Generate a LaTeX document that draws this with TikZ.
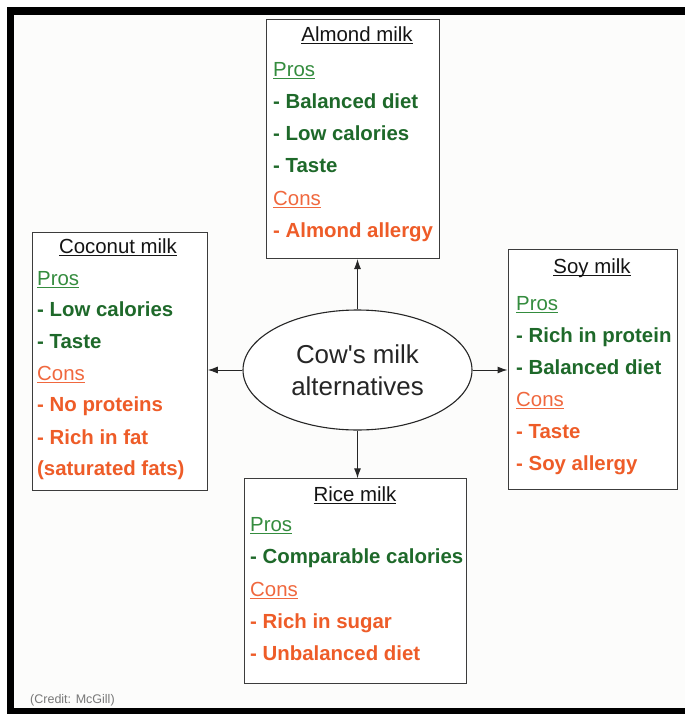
\documentclass[tikz,border=0pt]{standalone}
\usepackage{fontspec}
\setmainfont{Liberation Sans}
\newfontfamily\cowfont{Liberation Sans}
\usetikzlibrary{shapes.geometric,arrows.meta}
\definecolor{itemgreen}{RGB}{30,105,42}
\definecolor{prosgreen}{RGB}{52,140,62}
\definecolor{itemorange}{RGB}{238,92,40}
\definecolor{consorange}{RGB}{240,104,62}
\definecolor{boxline}{RGB}{60,60,60}
\definecolor{titleblack}{RGB}{20,20,20}
\definecolor{creditgray}{RGB}{120,120,120}
\definecolor{bgpaper}{RGB}{252,252,251}
\newcommand\ulx[1]{\setbox0\hbox{#1}\rlap{\rule[-2.6pt]{\wd0}{1.1pt}}\box0}
\tikzset{
  boxnode/.style={draw=boxline, line width=1.1pt, fill=white, anchor=north west, inner sep=0pt},
  txt/.style={anchor=base west, inner sep=0pt, font=\fontsize{20.4}{24}\selectfont},
  titletxt/.style={anchor=base, inner sep=0pt, text=titleblack, font=\fontsize{20.4}{24}\selectfont},
  prostxt/.style={txt, text=prosgreen},
  constxt/.style={txt, text=consorange},
  gitem/.style={txt, text=itemgreen, font=\fontsize{20.4}{24}\selectfont\bfseries},
  oitem/.style={txt, text=itemorange, font=\fontsize{20.4}{24}\selectfont\bfseries},
  conn/.style={draw=black!85, line width=1pt, -{Latex[length=10pt,width=7pt]}}
}
\begin{document}
\begin{tikzpicture}[x=1pt,y=-1pt]
\useasboundingbox (0,0) rectangle (685,714);
\fill[white] (0,0) rectangle (685,714);
\fill[bgpaper] (8,7) rectangle (685,714);
\fill[black] (7,7) rectangle (685,15);
\fill[black] (7,7) rectangle (14,714);
\fill[black] (7,708) rectangle (685,714);

% boxes
\node[boxnode, minimum width=173pt, minimum height=239pt] (alm) at (266,19) {};
\node[boxnode, minimum width=175pt, minimum height=258pt] (coc) at (31.7,231.7) {};
\node[boxnode, minimum width=169pt, minimum height=240.5pt] (soy) at (507.5,248.5) {};
\node[boxnode, minimum width=222pt, minimum height=205pt] (ric) at (244,478.3) {};

% center ellipse
\node[ellipse, draw=black!85, line width=1.1pt, fill=white, minimum width=229pt, minimum height=120pt, inner sep=0pt,
      align=center, text=black!85, font=\cowfont\fontsize{25.9}{31.7}\selectfont] (cow) at (357.5,370) {Cow's milk\\alternatives};

% almond
\node[titletxt] (almt) at (357,41.7) {\ulx{Almond milk}};
\node[prostxt] (almp) at (273,76.7) {\ulx{Pros}};
\node[gitem] (alm1) at (273,109) {- Balanced diet};
\node[gitem] (alm2) at (273,141) {- Low calories};
\node[gitem] (alm3) at (273,173) {- Taste};
\node[constxt] (almc) at (273,205) {\ulx{Cons}};
\node[oitem] (alm4) at (273,237) {- Almond allergy};

% coconut
\node[titletxt] (coct) at (118,253.3) {\ulx{Coconut milk}};
\node[prostxt] (cocp) at (37,285) {\ulx{Pros}};
\node[gitem] (coc1) at (37,316.7) {- Low calories};
\node[gitem] (coc2) at (37,348.3) {- Taste};
\node[constxt] (cocc) at (37,380) {\ulx{Cons}};
\node[oitem] (coc3) at (37,411.7) {- No proteins};
\node[oitem] (coc4) at (37,444) {- Rich in fat};
\node[oitem] (coc5) at (37,475.5) {(saturated fats)};

% soy
\node[titletxt] (soyt) at (592,273.3) {\ulx{Soy milk}};
\node[prostxt] (soyp) at (516,310.5) {\ulx{Pros}};
\node[gitem] (soy1) at (516,342) {- Rich in protein};
\node[gitem] (soy2) at (516,374) {- Balanced diet};
\node[constxt] (soyc) at (516,406) {\ulx{Cons}};
\node[oitem] (soy3) at (516,438) {- Taste};
\node[oitem] (soy4) at (516,470) {- Soy allergy};

% rice
\node[titletxt] (rict) at (355,501.7) {\ulx{Rice milk}};
\node[prostxt] (ricp) at (250,531.7) {\ulx{Pros}};
\node[gitem] (ric1) at (250,563.3) {- Comparable calories};
\node[constxt] (ricc) at (250,596) {\ulx{Cons}};
\node[oitem] (ric2) at (250,628.3) {- Rich in sugar};
\node[oitem] (ric3) at (250,660) {- Unbalanced diet};

% connectors
\draw[conn] (cow.north) -- (cow.north |- alm.south);
\draw[conn] (cow.south) -- (cow.south |- ric.north);
\draw[conn] (cow.west) -- (cow.west -| coc.east);
\draw[conn] (cow.east) -- (cow.east -| soy.west);

% credit
\node[anchor=base west, inner sep=0pt, text=creditgray, font=\fontsize{12.5}{14}\selectfont] (credit) at (30,703.3) {(Credit: McGill)};
\end{tikzpicture}
\end{document}
